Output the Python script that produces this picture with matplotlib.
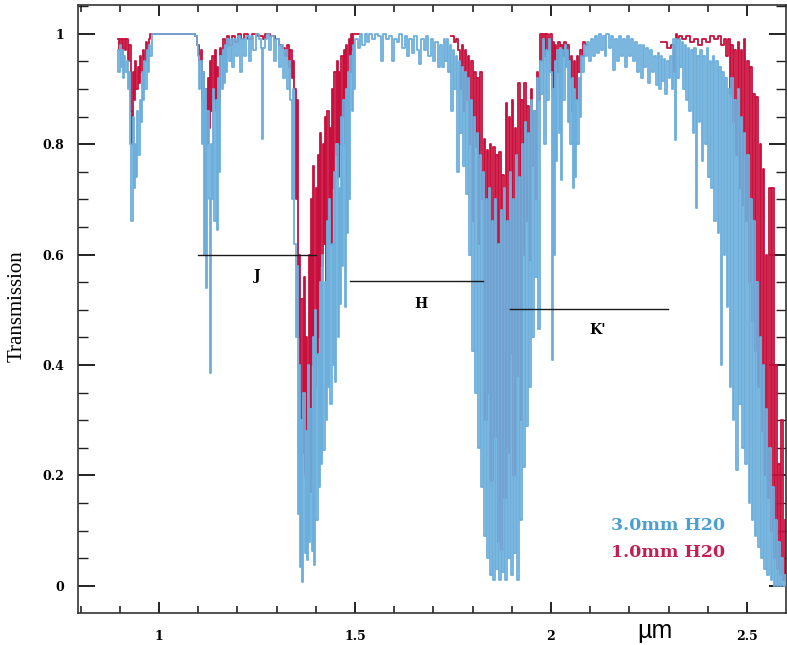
import matplotlib
matplotlib.use("Agg")
import matplotlib.pyplot as plt
import numpy as np
from matplotlib.ticker import MultipleLocator

nan = float("nan")

# Atmospheric transmission, 3.0 mm precipitable water vapour
wl_3mm = [
    # 0.9 um band
    0.895, 0.898, 0.901, 0.904, 0.907, 0.910, 0.913, 0.916, 0.919, 0.922,
    0.925, 0.928, 0.931, 0.934, 0.937, 0.940, 0.943, 0.946, 0.949, 0.952,
    0.955, 0.958, 0.961, 0.964, 0.967, 0.970, 0.973, 0.976, 0.979, 0.983,
    1.000, 1.040, 1.080, 1.090,
    # 1.1 um band and J window
    1.094, 1.098, 1.101, 1.104, 1.107, 1.110, 1.113, 1.116, 1.119, 1.122,
    1.125, 1.128, 1.131, 1.134, 1.137, 1.140, 1.143, 1.146, 1.149, 1.152,
    1.155, 1.158, 1.161, 1.164, 1.167, 1.170, 1.173, 1.176, 1.180, 1.185,
    1.190, 1.195, 1.200, 1.205, 1.210, 1.215, 1.220, 1.226, 1.232, 1.238,
    1.244, 1.250, 1.258, 1.262, 1.265, 1.268, 1.272, 1.278, 1.284, 1.290,
    1.296, 1.302, 1.308, 1.313, 1.318, 1.323, 1.328, 1.333, 1.337, 1.341,
    1.344,
    # 1.4 um band
    1.347, 1.350, 1.353, 1.356, 1.359, 1.362, 1.365, 1.367, 1.370, 1.373,
    1.376, 1.379, 1.382, 1.385, 1.388, 1.391, 1.394, 1.397, 1.400, 1.403,
    1.406, 1.409, 1.412, 1.415, 1.418, 1.421, 1.424, 1.427, 1.430, 1.433,
    1.436, 1.439, 1.442, 1.445, 1.448, 1.451, 1.454, 1.457, 1.460, 1.463,
    1.466, 1.469, 1.472, 1.475, 1.478, 1.481, 1.484, 1.487, 1.490, 1.493,
    1.496, 1.499, 1.503,
    # H window
    1.510, 1.516, 1.522, 1.528, 1.534, 1.540, 1.548, 1.556, 1.563, 1.570,
    1.575, 1.582, 1.590, 1.597, 1.603, 1.610, 1.617, 1.624, 1.630, 1.636,
    1.642, 1.648, 1.654, 1.660, 1.666, 1.672, 1.678, 1.684, 1.690, 1.696,
    1.702, 1.708, 1.714, 1.720,
    # 1.9 um band
    1.724, 1.728, 1.732, 1.736, 1.740, 1.744, 1.747, 1.751, 1.755, 1.759,
    1.763, 1.767, 1.770, 1.774, 1.778, 1.782, 1.786, 1.790, 1.793, 1.797,
    1.801, 1.805, 1.809, 1.813, 1.816, 1.820, 1.824, 1.828, 1.832, 1.836,
    1.839, 1.843, 1.847, 1.851, 1.855, 1.859, 1.862, 1.866, 1.870, 1.874,
    1.878, 1.881, 1.885, 1.889, 1.893, 1.897, 1.901, 1.905, 1.908, 1.912,
    1.916, 1.920, 1.923, 1.927, 1.931, 1.935, 1.939, 1.943, 1.946, 1.950,
    1.954, 1.958, 1.962, 1.966, 1.969, 1.973, 1.977, 1.981, 1.985, 1.989,
    1.992, 1.996, 2.000,
    # CO2 lines near 2.0 um
    2.003, 2.006, 2.009, 2.012, 2.015, 2.018, 2.021, 2.024, 2.027, 2.030,
    2.033, 2.036, 2.039, 2.042, 2.045, 2.048, 2.051, 2.054, 2.057, 2.060,
    2.063, 2.066, 2.069, 2.072, 2.075, 2.078, 2.081, 2.085, 2.089,
    # K window
    2.094, 2.099, 2.104, 2.109, 2.114, 2.119, 2.124, 2.129, 2.134, 2.139,
    2.144, 2.150, 2.156, 2.161, 2.166, 2.171, 2.176, 2.181, 2.186, 2.191,
    2.196, 2.201, 2.206, 2.211, 2.216, 2.221, 2.226, 2.231, 2.236, 2.241,
    2.246, 2.251, 2.256, 2.261, 2.266, 2.270, 2.274, 2.278, 2.282, 2.286,
    2.290, 2.294, 2.298, 2.302, 2.306, 2.310, 2.314, 2.317, 2.320,
    # long-wavelength cutoff
    2.324, 2.328, 2.332, 2.336, 2.340, 2.344, 2.347, 2.351, 2.355, 2.359,
    2.363, 2.367, 2.371, 2.375, 2.379, 2.383, 2.387, 2.391, 2.395, 2.399,
    2.403, 2.407, 2.411, 2.415, 2.419, 2.423, 2.427, 2.431, 2.435, 2.439,
    2.443, 2.447, 2.450, 2.454, 2.458, 2.462, 2.466, 2.470, 2.474, 2.478,
    2.482, 2.486, 2.490, 2.494, 2.498, 2.502, 2.506, 2.510, 2.514, 2.518,
    2.522, 2.526, 2.530, 2.534, 2.538, 2.542, 2.546, 2.550, 2.554, 2.558,
    2.562, 2.566, 2.570, 2.574, 2.578, 2.582, 2.586, 2.590, 2.594, 2.598,
]
t_3mm = [
    0.97, 0.93, 0.98, 0.94, 0.97, 0.92, 0.96, 0.93, 0.95, 0.90,
    0.93, 0.80, 0.66, 0.85, 0.72, 0.80, 0.74, 0.86, 0.78, 0.88,
    0.84, 0.93, 0.88, 0.95, 0.90, 0.97, 0.93, 0.98, 0.96, 1.00,
    1.00, 1.00, 1.00, 1.00,
    0.995, 0.98, 0.96, 0.90, 0.95, 0.80, 0.93, 0.60, 0.90, 0.54,
    0.86, 0.70, 0.385, 0.80, 0.70, 0.90, 0.66, 0.88, 0.645, 0.92,
    0.75, 0.96, 0.90, 0.97, 0.91, 0.98, 0.93, 0.99, 0.95, 0.99,
    0.94, 0.99, 0.96, 0.995, 0.93, 0.99, 0.96, 0.995, 0.95, 0.995,
    0.97, 1.00, 0.99, 0.975, 0.81, 0.975, 0.99, 1.00, 0.97, 0.995,
    0.95, 0.99, 0.94, 0.98, 0.92, 0.97, 0.90, 0.95, 0.88, 0.70,
    0.90,
    0.62, 0.45, 0.58, 0.13, 0.40, 0.035, 0.30, 0.007, 0.35, 0.06,
    0.28, 0.047, 0.40, 0.08, 0.32, 0.063, 0.45, 0.038, 0.50, 0.12,
    0.42, 0.18, 0.55, 0.22, 0.60, 0.246, 0.55, 0.30, 0.66, 0.36,
    0.70, 0.33, 0.62, 0.40, 0.75, 0.37, 0.80, 0.45, 0.72, 0.51,
    0.85, 0.58, 0.88, 0.505, 0.90, 0.64, 0.93, 0.70, 0.96, 0.86,
    0.98, 0.90, 0.99,
    0.975, 1.00, 0.98, 1.00, 0.985, 1.00, 0.99, 1.00, 0.995, 0.95,
    1.00, 0.99, 0.995, 0.95, 0.99, 0.985, 1.00, 0.975, 0.995, 0.96,
    0.99, 0.965, 0.995, 0.97, 0.945, 0.99, 0.97, 0.995, 0.96, 0.99,
    0.95, 0.985, 0.94, 0.98,
    0.94, 0.99, 0.95, 0.99, 0.93, 0.98, 0.86, 0.97, 0.90, 0.96,
    0.75, 0.95, 0.82, 0.94, 0.76, 0.93, 0.71, 0.92, 0.60, 0.88,
    0.425, 0.85, 0.35, 0.82, 0.25, 0.78, 0.18, 0.75, 0.09, 0.70,
    0.05, 0.72, 0.02, 0.66, 0.01, 0.70, 0.03, 0.62, 0.01, 0.68,
    0.025, 0.72, 0.01, 0.66, 0.05, 0.75, 0.02, 0.70, 0.06, 0.78,
    0.01, 0.74, 0.12, 0.80, 0.215, 0.84, 0.29, 0.82, 0.36, 0.88,
    0.45, 0.86, 0.56, 0.92, 0.465, 0.95, 0.89, 0.99, 0.80, 0.97,
    0.88, 0.99, 0.93,
    0.41, 0.90, 0.60, 0.95, 0.77, 0.97, 0.82, 0.975, 0.735, 0.97,
    0.88, 0.98, 0.94, 0.97, 0.84, 0.95, 0.80, 0.92, 0.72, 0.90,
    0.74, 0.88, 0.80, 0.92, 0.85, 0.96, 0.93, 0.98, 0.96,
    0.985, 0.95, 0.99, 0.96, 0.995, 0.965, 1.00, 0.97, 0.995, 0.96,
    1.00, 0.975, 0.995, 0.935, 0.99, 0.95, 0.995, 0.96, 0.99, 0.94,
    0.995, 0.96, 0.99, 0.95, 0.985, 0.93, 0.98, 0.92, 0.98, 0.94,
    0.975, 0.91, 0.97, 0.93, 0.96, 0.907, 0.965, 0.90, 0.96, 0.915,
    0.955, 0.89, 0.95, 0.92, 0.96, 0.90, 0.99, 0.807, 0.99,
    0.92, 0.99, 0.94, 0.985, 0.90, 0.98, 0.88, 0.975, 0.86, 0.97,
    0.82, 0.975, 0.685, 0.96, 0.84, 0.97, 0.77, 0.96, 0.80, 0.975,
    0.74, 0.95, 0.72, 0.96, 0.66, 0.95, 0.64, 0.94, 0.40, 0.93,
    0.60, 0.92, 0.505, 0.90, 0.36, 0.92, 0.30, 0.88, 0.21, 0.90,
    0.33, 0.85, 0.25, 0.82, 0.22, 0.78, 0.15, 0.70, 0.12, 0.66,
    0.09, 0.55, 0.07, 0.45, 0.05, 0.40, 0.03, 0.32, 0.02, 0.25,
    0.01, 0.18, 0.00, 0.12, 0.00, 0.08, 0.00, 0.05, 0.00, 0.02,
]

# Atmospheric transmission, 1.0 mm precipitable water vapour
# (nan where the curve sits under the 3.0 mm curve in the windows)
wl_1mm = [
    0.895, 0.899, 0.903, 0.907, 0.911, 0.915, 0.919, 0.923, 0.926, 0.929,
    0.932, 0.935, 0.938, 0.941, 0.944, 0.947, 0.950, 0.953, 0.956, 0.960,
    0.964, 0.968, 0.972, 0.976, 0.980,
    1.000, 1.040, 1.080,
    1.090, 1.096, 1.100, 1.104, 1.108, 1.111, 1.114, 1.117, 1.120, 1.123,
    1.126, 1.129, 1.132, 1.135, 1.138, 1.141, 1.144, 1.147, 1.150, 1.153,
    1.156, 1.160, 1.165, 1.170, 1.176, 1.182, 1.190, 1.198, 1.206, 1.214,
    1.222, 1.232, 1.245, 1.262, 1.268, 1.275, 1.290, 1.300, 1.310, 1.318,
    1.324, 1.329, 1.333, 1.337, 1.341, 1.344,
    1.347, 1.350, 1.353, 1.356, 1.359, 1.362, 1.365, 1.368, 1.371, 1.374,
    1.377, 1.380, 1.383, 1.386, 1.389, 1.392, 1.395, 1.398, 1.401, 1.404,
    1.407, 1.410, 1.413, 1.416, 1.419, 1.422, 1.425, 1.428, 1.431, 1.434,
    1.437, 1.440, 1.443, 1.446, 1.449, 1.452, 1.455, 1.458, 1.461, 1.464,
    1.467, 1.470, 1.473, 1.476, 1.479, 1.482, 1.485, 1.488, 1.491, 1.494,
    1.498,
    1.530, 1.600, 1.660, 1.700, 1.715,
    1.720, 1.730, 1.740, 1.748, 1.755, 1.762, 1.766, 1.770, 1.774, 1.778,
    1.782, 1.786, 1.790, 1.794, 1.798, 1.802, 1.806, 1.810, 1.814, 1.818,
    1.822, 1.826, 1.830, 1.834, 1.838, 1.842, 1.846, 1.850, 1.854, 1.858,
    1.862, 1.866, 1.870, 1.874, 1.878, 1.882, 1.886, 1.890, 1.894, 1.898,
    1.902, 1.906, 1.910, 1.914, 1.918, 1.922, 1.926, 1.930, 1.934, 1.938,
    1.942, 1.946, 1.950, 1.954, 1.958, 1.962, 1.966, 1.970, 1.974, 1.978,
    1.982, 1.986, 1.990, 1.995, 2.000,
    2.003, 2.006, 2.009, 2.012, 2.016, 2.020, 2.024, 2.028, 2.032, 2.036,
    2.040, 2.044, 2.048, 2.052, 2.056, 2.060, 2.064, 2.068, 2.072, 2.076,
    2.080, 2.085, 2.089,
    2.100, 2.150, 2.200, 2.250, 2.270, 2.290, 2.300, 2.310, 2.317, 2.320,
    2.325, 2.330, 2.340, 2.350, 2.360, 2.370, 2.380, 2.390, 2.400, 2.410,
    2.420, 2.430, 2.438, 2.444, 2.450, 2.454, 2.458, 2.462, 2.466, 2.470,
    2.474, 2.478, 2.482, 2.486, 2.490, 2.494, 2.498, 2.502, 2.506, 2.510,
    2.514, 2.518, 2.522, 2.526, 2.530, 2.534, 2.538, 2.542, 2.546, 2.550,
    2.554, 2.558, 2.562, 2.566, 2.570, 2.574, 2.578, 2.582, 2.586, 2.590,
    2.594, 2.598,
]
t_1mm = [
    0.99, 0.97, 0.99, 0.96, 0.99, 0.97, 0.99, 0.95, 0.98, 0.86,
    0.80, 0.93, 0.88, 0.95, 0.90, 0.94, 0.91, 0.96, 0.93, 0.97,
    0.95, 0.985, 0.97, 0.99, 1.00,
    1.00, 1.00, 1.00,
    1.00, 0.995, 0.98, 0.95, 0.97, 0.88, 0.93, 0.82, 0.90, 0.80,
    0.92, 0.83, 0.95, 0.86, 0.96, 0.88, 0.97, 0.86, 0.94, 0.88,
    0.975, 0.96, 0.99, 0.975, 0.995, 0.98, 0.995, 0.985, 1.00, 0.99,
    1.00, 0.99, 1.00, 0.995, 0.99, 1.00, 0.995, 0.99, 0.98, 0.975,
    0.96, 0.98, 0.94, 0.97, 0.92, 0.95,
    0.90, 0.70, 0.88, 0.45, 0.60, 0.19, 0.52, 0.24, 0.56, 0.20,
    0.45, 0.26, 0.60, 0.17, 0.70, 0.40, 0.76, 0.36, 0.72, 0.42,
    0.78, 0.45, 0.82, 0.58, 0.80, 0.62, 0.85, 0.55, 0.86, 0.66,
    0.83, 0.62, 0.90, 0.72, 0.93, 0.78, 0.95, 0.74, 0.93, 0.80,
    0.96, 0.85, 0.97, 0.80, 0.98, 0.90, 0.99, 0.93, 1.00, 0.97,
    1.00,
    nan, nan, nan, nan, nan,
    nan, nan, nan, 0.995, 0.985, 0.99, 0.97, 0.90, 0.98, 0.86,
    0.97, 0.88, 0.96, 0.80, 0.95, 0.66, 0.93, 0.795, 0.92, 0.62,
    0.93, 0.70, 0.81, 0.30, 0.79, 0.35, 0.80, 0.19, 0.795, 0.27,
    0.78, 0.08, 0.785, 0.065, 0.745, 0.16, 0.874, 0.24, 0.85, 0.42,
    0.88, 0.20, 0.83, 0.38, 0.91, 0.30, 0.88, 0.60, 0.91, 0.66,
    0.87, 0.59, 0.90, 0.76, 0.86, 0.70, 0.93, 0.88, 1.00, 0.95,
    1.00, 0.96, 1.00, 0.97, 1.00,
    0.90, 0.985, 0.85, 0.98, 0.93, 0.985, 0.93, 0.98, 0.96, 0.985,
    0.97, 0.98, 0.92, 0.96, 0.86, 0.95, 0.88, 0.96, 0.93, 0.97,
    0.96, 0.985, 0.98,
    nan, nan, nan, nan, nan, 0.985, 0.975, 0.98, 0.93, 1.00,
    0.99, 0.995, 0.99, 0.995, 0.985, 0.99, 0.98, 0.99, 0.985, 0.995,
    0.99, 0.995, 0.98, 0.99, 0.96, 0.99, 0.89, 0.98, 0.84, 0.97,
    0.78, 0.985, 0.72, 0.97, 0.69, 0.99, 0.66, 0.95, 0.55, 0.94,
    0.48, 0.89, 0.425, 0.885, 0.36, 0.80, 0.28, 0.755, 0.20, 0.60,
    0.16, 0.72, 0.10, 0.72, 0.05, 0.40, 0.03, 0.22, 0.02, 0.30,
    0.01, 0.12,
]

# Photometric bands: name, start, end, height of the marker line
band_names = ["J", "H", "K'"]
band_start = [1.10, 1.487, 1.895]
band_end = [1.40, 1.827, 2.298]
band_level = [0.60, 0.552, 0.501]
band_label_x = [1.25, 1.668, 2.12]
band_label_y = [0.561, 0.510, 0.463]

series_labels = ["3.0mm H20", "1.0mm H20"]

assert len(wl_3mm) == len(t_3mm)
assert len(wl_1mm) == len(t_1mm)

BLUE = "#6DAFDC"
RED = "#C8103E"

fig = plt.figure(figsize=(7.87, 6.45), dpi=100)
ax = fig.add_axes([78 / 787, 32 / 645, 708 / 787, 608 / 645])

ax.plot(wl_1mm, np.array(t_1mm, dtype=float), drawstyle="steps-mid",
        color=RED, lw=1.3, zorder=2)
ax.plot(wl_3mm, t_3mm, drawstyle="steps-mid", color=BLUE, lw=1.3, zorder=3)

for name, x0, x1, lev, lx, ly in zip(band_names, band_start, band_end,
                                      band_level, band_label_x, band_label_y):
    ax.plot([x0, x1], [lev, lev], color="#1a1a1a", lw=1.0, zorder=4)
    ax.text(lx, ly, name, ha="center", va="center", fontsize=10,
            family="DejaVu Serif", fontweight="bold", zorder=5)

ax.text(2.298, 0.109, series_labels[0], color="#4C9FD0", ha="center",
        va="center", fontsize=12.5, family="DejaVu Serif", fontweight="bold")
ax.text(2.298, 0.060, series_labels[1], color="#C41E52", ha="center",
        va="center", fontsize=12.5, family="DejaVu Serif", fontweight="bold")

ax.set_xlim(0.7934, 2.5995)
ax.set_ylim(-0.049, 1.052)

ax.set_xticks([1, 1.5, 2, 2.5])
ax.set_xticklabels(["1", "1.5", "2", "2.5"])
ax.xaxis.set_minor_locator(MultipleLocator(0.1))
ax.set_yticks([0, 0.2, 0.4, 0.6, 0.8, 1.0])
ax.set_yticklabels(["0", "0.2", "0.4", "0.6", "0.8", "1"])
ax.yaxis.set_minor_locator(MultipleLocator(0.05))

ax.tick_params(which="both", direction="in", top=True, right=True,
               color="#222222")
ax.tick_params(axis="x", which="major", length=8, width=1.4, pad=12)
ax.tick_params(axis="x", which="minor", length=5, width=1.2)
ax.tick_params(axis="y", which="major", length=12, width=1.4, pad=10)
ax.tick_params(axis="y", which="minor", length=7, width=1.0)
for lab in ax.get_xticklabels() + ax.get_yticklabels():
    lab.set_family("DejaVu Serif")
    lab.set_fontweight("bold")
    lab.set_fontsize(9)

for sp in ax.spines.values():
    sp.set_color("#333333")
    sp.set_linewidth(1.2)

ax.set_ylabel("Transmission", family="Liberation Serif", fontsize=15)
ax.yaxis.set_label_coords(-0.072, 0.505)
fig.text(655 / 787, 1 - 638 / 645, "\u00b5m", family="Liberation Sans",
         fontsize=18, ha="center", va="baseline")

fig.savefig("out.png", dpi=100)
